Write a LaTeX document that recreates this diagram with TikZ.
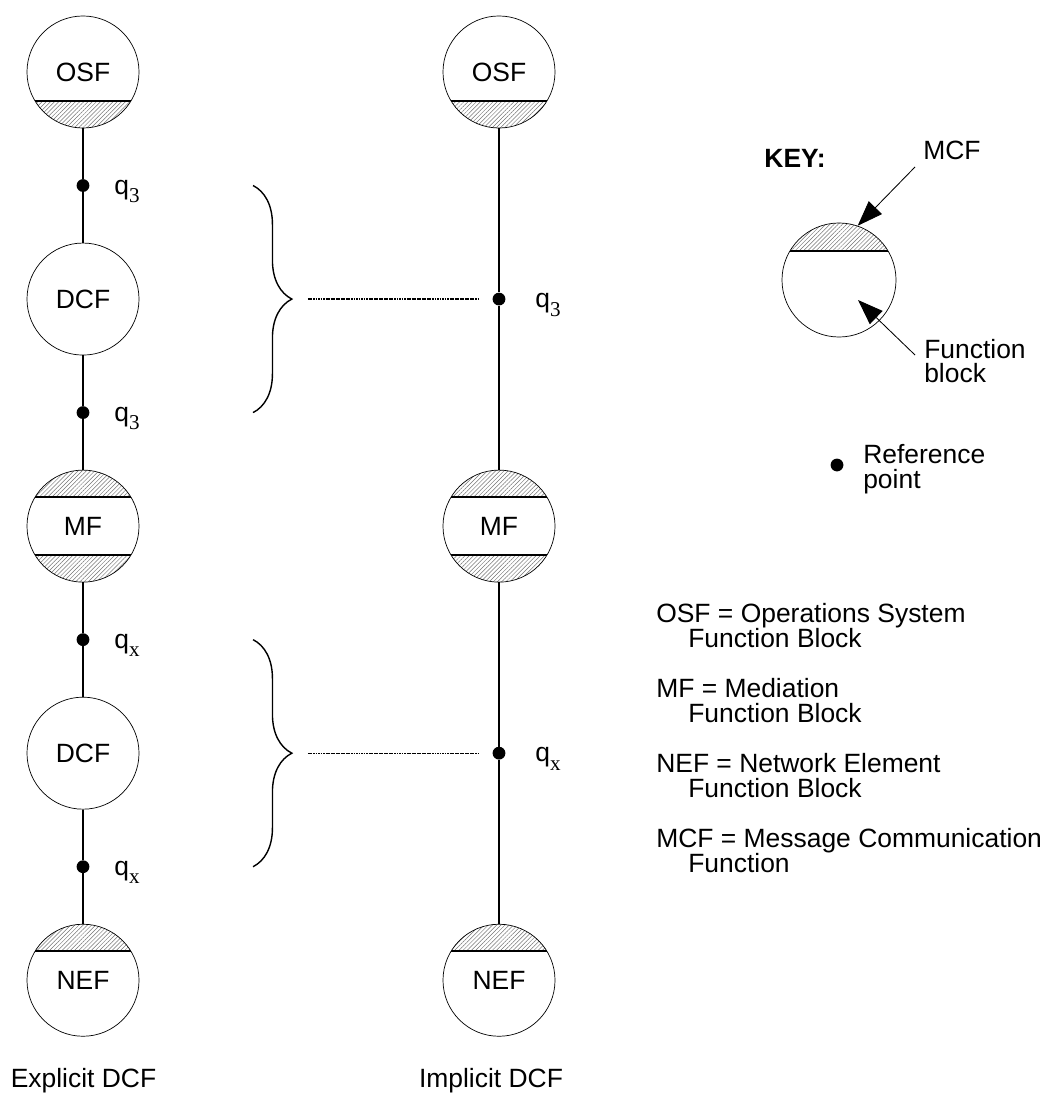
\documentclass[tikz,border=0pt]{standalone}
\usepackage{fontspec}
\setmainfont{Liberation Sans}
\newfontfamily\subfont{Liberation Serif}
\usetikzlibrary{positioning,patterns.meta,arrows.meta,decorations.pathreplacing}

\newcommand{\qref}[1]{q\raisebox{-0.32em}{\subfont\fontsize{15}{15}\selectfont #1}}

\tikzset{
  txt/.style    = {inner sep=0pt, font=\fontsize{18.8}{17.6}\selectfont},
  fblock/.style = {circle, draw, line width=0.5pt, inner sep=0pt,
                   minimum size=2.8cm, txt},
  hatch/.style  = {pattern={Lines[angle=45,distance=2.1pt,line width=0.35pt]},
                   pattern color=black!55},
  % message communication function caps on a function block
  mcf top/.style = {path picture={
      \fill[hatch] (path picture bounding box.north west) rectangle
                   ([yshift=0.725cm]path picture bounding box.east);
      \draw[line width=1.4pt] ([yshift=0.725cm]path picture bounding box.west)
                           -- ([yshift=0.725cm]path picture bounding box.east);}},
  mcf bottom/.style = {path picture={
      \fill[hatch] (path picture bounding box.south west) rectangle
                   ([yshift=-0.725cm]path picture bounding box.east);
      \draw[line width=1.4pt] ([yshift=-0.725cm]path picture bounding box.west)
                           -- ([yshift=-0.725cm]path picture bounding box.east);}},
  mcf both/.style = {path picture={
      \fill[hatch] (path picture bounding box.north west) rectangle
                   ([yshift=0.725cm]path picture bounding box.east);
      \fill[hatch] (path picture bounding box.south west) rectangle
                   ([yshift=-0.725cm]path picture bounding box.east);
      \draw[line width=1.4pt] ([yshift=0.725cm]path picture bounding box.west)
                           -- ([yshift=0.725cm]path picture bounding box.east);
      \draw[line width=1.4pt] ([yshift=-0.725cm]path picture bounding box.west)
                           -- ([yshift=-0.725cm]path picture bounding box.east);}},
  refpt/.style  = {circle, fill, inner sep=0pt, minimum size=0.32cm},
  link/.style   = {line width=1.3pt},
  guide/.style  = {line width=0.9pt, dash pattern=on 1.3pt off 0.5pt},
  brace/.style  = {line width=1pt, decorate,
                   decoration={brace, amplitude=0.97cm}},
  pointer/.style = {line width=0.6pt, -{Triangle[length=18pt,width=13pt]}}
}

\begin{document}
\begin{tikzpicture}[x=0.025cm, y=-0.025cm, node distance=2.8375cm, on grid]
\useasboundingbox (0,0) rectangle (1050,1096);

% explicit DCF column
\node[fblock, mcf bottom] (osf1) at (83,72) {OSF};
\node[refpt, below=of osf1] (p1) {};
\node[fblock, below=of p1] (dcf1) {DCF};
\node[refpt, below=of dcf1] (p2) {};
\node[fblock, mcf both, below=of p2] (mf1) {MF};
\node[refpt, below=of mf1] (p3) {};
\node[fblock, below=of p3] (dcf2) {DCF};
\node[refpt, below=of dcf2] (p4) {};
\node[fblock, mcf top, below=of p4] (nef1) {NEF};

\foreach \a/\b in {osf1/p1, p1/dcf1, dcf1/p2, p2/mf1, mf1/p3, p3/dcf2, dcf2/p4, p4/nef1}
  \draw[link] (\a) -- (\b);

\node[txt, anchor=base west] (l1) at ([shift={(0.78cm,-0.22cm)}]p1.center) {\qref{3}};
\node[txt, anchor=base west] (l2) at ([shift={(0.78cm,-0.22cm)}]p2.center) {\qref{3}};
\node[txt, anchor=base west] (l3) at ([shift={(0.78cm,-0.22cm)}]p3.center) {\qref{x}};
\node[txt, anchor=base west] (l4) at ([shift={(0.78cm,-0.22cm)}]p4.center) {\qref{x}};

% implicit DCF column
\node[fblock, mcf bottom] (osf2) at (499,72) {OSF};
\node[refpt, below=5.675cm of osf2] (q1) {};
\node[fblock, mcf both, below=5.675cm of q1] (mf2) {MF};
\node[refpt, below=5.675cm of mf2] (q2) {};
\node[fblock, mcf top, below=5.675cm of q2] (nef2) {NEF};

\foreach \a/\b in {osf2/q1, q1/mf2, mf2/q2, q2/nef2}
  \draw[link] (\a) -- (\b);

\node[txt, anchor=base west] (m1) at ([shift={(0.9cm,-0.22cm)}]q1.center) {\qref{3}};
\node[txt, anchor=base west] (m2) at ([shift={(0.9cm,-0.22cm)}]q2.center) {\qref{x}};

% braces grouping the explicit DCF
\draw[brace] ([xshift=4.25cm]p1.center) -- ([xshift=4.25cm]p2.center);
\draw[brace] ([xshift=4.25cm]p3.center) -- ([xshift=4.25cm]p4.center);
\draw[guide] ([xshift=-4.775cm]q1.center) -- ([xshift=-0.475cm]q1.center);
\draw[guide] ([xshift=-4.775cm]q2.center) -- ([xshift=-0.475cm]q2.center);

\node[txt] (cap1) at (83.5,1081) {Explicit DCF};
\node[txt] (cap2) at (491,1081) {Implicit DCF};

% key
\node[txt, font=\fontsize{18.8}{17.6}\selectfont\bfseries] (keylab) at (795,158) {KEY:};
\node[fblock, mcf top, minimum size=2.85cm] (key) at (839,280) {};
\node[txt] (mcflab) at (952,150) {MCF};
\coordinate (mcftail) at (915,167);
\draw[pointer] (mcftail) -- (key.71);
\node[txt, align=left, anchor=west] (fblab) at (924,361) {Function\\block};
\coordinate (fbtail) at (915,355);
\coordinate (fbtip) at (858,300);
\draw[pointer] (fbtail) -- (fbtip);
\node[refpt] (rp) at (837,465) {};
\node[txt, align=left, anchor=west] (rplab) at (863,469) {Reference\\point};

% abbreviations
\foreach \n/\a/\b [count=\i from 0] in {OSF/Operations System/Function Block,
    MF/Mediation/Function Block, NEF/Network Element/Function Block,
    MCF/Message Communication/Function} {
  \node[txt, anchor=base west] (def\i a) at (656,622+75*\i) {\n{} = \a};
  \node[txt, anchor=base west] (def\i b) at (688,647+75*\i) {\b};
}
\end{tikzpicture}
\end{document}
